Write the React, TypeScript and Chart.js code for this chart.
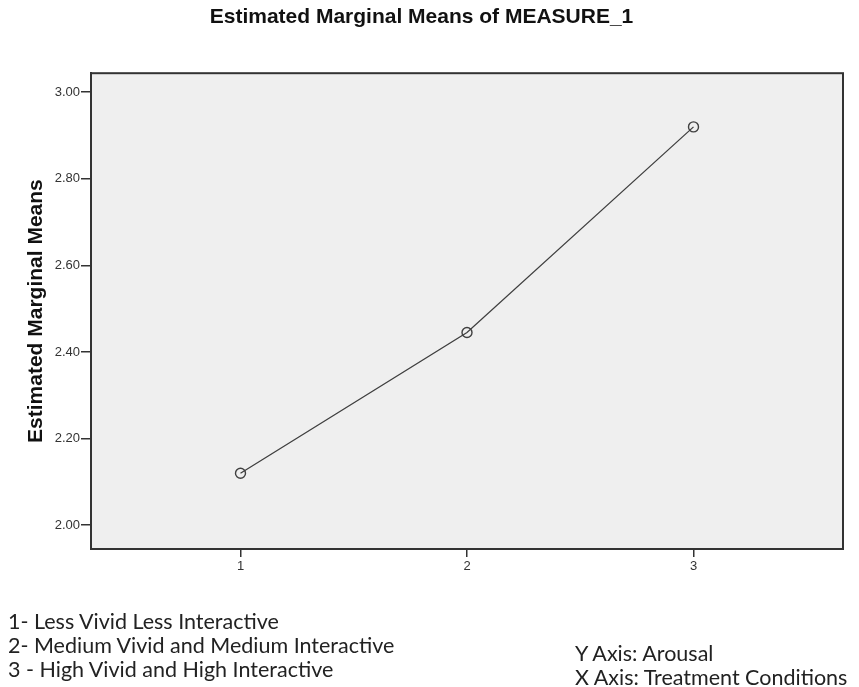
import React, { useEffect, useRef } from "react";
import { Chart, registerables } from "chart.js";

Chart.register(...registerables);

const title = "Estimated Marginal Means of MEASURE_1";
const yTitle = "Estimated Marginal Means";
const conditions = [1, 2, 3];
const means = [2.12, 2.445, 2.92];
const yTicks = [2.0, 2.2, 2.4, 2.6, 2.8, 3.0];
const notesLeft = [
  "1- Less Vivid Less Interactive",
  "2- Medium Vivid and Medium Interactive",
  "3 - High Vivid and High Interactive",
];
const notesRight = ["Y Axis: Arousal", "X Axis: Treatment Conditions"];

const framePlugin = {
  id: "frame",
  beforeDraw(chart: any) {
    const { ctx, chartArea: a } = chart;
    ctx.save();
    ctx.fillStyle = "#efefef";
    ctx.fillRect(a.left, a.top, a.right - a.left, a.bottom - a.top);
    ctx.restore();
  },
  afterDraw(chart: any) {
    const { ctx, chartArea: a } = chart;
    ctx.save();
    ctx.strokeStyle = "#333333";
    ctx.lineWidth = 2;
    ctx.strokeRect(a.left, a.top, a.right - a.left, a.bottom - a.top);
    ctx.restore();
  },
};

export default function App() {
  const ref = useRef<HTMLCanvasElement | null>(null);
  useEffect(() => {
    if (!ref.current) return;
    const chart = new Chart(ref.current, {
      type: "line",
      data: {
        datasets: [
          {
            data: conditions.map((c, i) => ({ x: c, y: means[i] })),
            borderColor: "#404040",
            borderWidth: 1.3,
            pointRadius: 5,
            pointBorderWidth: 1.4,
            pointBorderColor: "#404040",
            pointBackgroundColor: "rgba(0,0,0,0)",
            fill: false,
            tension: 0,
          },
        ],
      },
      options: {
        animation: false,
        responsive: false,
        layout: { padding: { left: 0, right: 16, top: 0, bottom: 108 } },
        plugins: {
          legend: { display: false },
          tooltip: { enabled: false },
          title: {
            display: true,
            text: title,
            color: "#111",
            font: { family: "Arial, 'Liberation Sans'", size: 21, weight: "bold" },
            padding: { top: 5, bottom: 43 },
          },
        },
        scales: {
          x: {
            type: "linear",
            min: 0.34,
            max: 3.66,
            afterBuildTicks: (s: any) => {
              s.ticks = conditions.map((v) => ({ value: v }));
            },
            afterFit: (s: any) => {
              s.height = 30;
            },
            grid: { drawOnChartArea: false, drawTicks: true, tickLength: 8, tickColor: "#333", lineWidth: 1.5 },
            border: { display: true, color: "#333", width: 2 },
            ticks: {
              color: "#333",
              font: { family: "Arial, 'Liberation Sans'", size: 13 },
              padding: 2,
              callback: (v: any) => String(v),
            },
          },
          y: {
            type: "linear",
            min: 1.945,
            max: 3.044,
            afterBuildTicks: (s: any) => {
              s.ticks = yTicks.map((v) => ({ value: v }));
            },
            afterFit: (s: any) => {
              s.width = 91;
            },
            grid: { drawOnChartArea: false, drawTicks: true, tickLength: 10, tickColor: "#333", lineWidth: 1.5 },
            border: { display: true, color: "#333", width: 2 },
            ticks: {
              color: "#333",
              font: { family: "Arial, 'Liberation Sans'", size: 13 },
              padding: 1,
              callback: (v: any) => Number(v).toFixed(2),
            },
            title: {
              display: true,
              text: yTitle,
              color: "#111",
              font: { family: "Arial, 'Liberation Sans'", size: 21, weight: "bold" },
              padding: { top: 24, bottom: 0 },
            },
          },
        },
      },
      plugins: [framePlugin],
    });
    return () => chart.destroy();
  }, []);

  const noteStyle: React.CSSProperties = {
    position: "absolute",
    fontFamily: "Lato, 'Open Sans', sans-serif",
    fontSize: 21.5,
    color: "#222",
    whiteSpace: "nowrap",
    lineHeight: "24px",
  };

  return (
    <div style={{ position: "absolute", left: 0, top: 0, width: 859, height: 687, background: "#fff" }}>
      <canvas ref={ref} width={859} height={687} style={{ display: "block" }} />
      {notesLeft.map((t, i) => (
        <div key={t} style={{ ...noteStyle, left: 8, top: 609 + i * 24 }}>
          {t}
        </div>
      ))}
      {notesRight.map((t, i) => (
        <div key={t} style={{ ...noteStyle, left: 575, top: 641 + i * 24 }}>
          {t}
        </div>
      ))}
    </div>
  );
}
